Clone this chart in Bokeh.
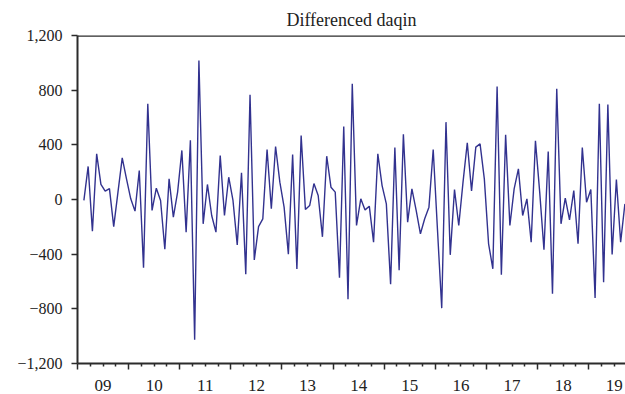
from bokeh.plotting import figure
from bokeh.models import FixedTicker, LinearAxis, Span, Range1d
from bokeh.embed import file_html
from bokeh.resources import INLINE

title_text = "Differenced daqin"
start_year, start_month = 2009, 2
diff_values = [
    -7, 242, -232, 334, 110, 61, 80, -198, 54, 305, 151, 5,
    -85, 212, -500, 700, -80, 83, -7, -364, 151, -129, 54, 359,
    -239, 434, -1027, 1017, -178, 110, -117, -239, 322, -117, 163, -7,
    -332, 195, -547, 766, -442, -198, -142, 366, -68, 388, 127, -56,
    -400, 329, -508, 468, -73, -44, 117, 29, -273, 317, 90, 54,
    -573, 534, -730, 847, -190, 5, -76, -49, -312, 334, 102, -32,
    -620, 381, -517, 478, -166, 78, -80, -251, -141, -56, 366, -220,
    -795, 566, -405, 73, -190, 127, 415, 63, 383, 407, 151, -324,
    -507, 827, -551, 473, -190, 78, 224, -117, 5, -312, 429, 54,
    -368, 351, -690, 810, -178, 10, -149, 66, -324, 381, -20, 73,
    -720, 700, -605, 695, -402, 146, -312, -32,
]
year_ticks = list(range(2009, 2020))
year_labels = ["09", "10", "11", "12", "13", "14", "15", "16", "17", "18", "19"]
y_ticks = [-1200, -800, -400, 0, 400, 800, 1200]
y_labels = ["\u22121,200", "\u2212800", "\u2212400", "0", "400", "800", "1,200"]

x = [start_year + (start_month - 1 + i + 0.5) / 12 for i in range(len(diff_values))]

FONT = "Liberation Serif"
AX = "#2b2b2b"
x_start, x_end = 2009.0, 2019.72

p = figure(width=625, height=394, x_range=Range1d(x_start, x_end),
           y_range=Range1d(-1200, 1200), output_backend="svg",
           toolbar_location=None, min_border_left=77, min_border_right=0,
           min_border_top=35, min_border_bottom=31, title=title_text)
p.title.align = "center"
p.title.vertical_align = "bottom"
p.title.text_font = FONT
p.title.text_font_style = "normal"
p.title.text_font_size = "18px"
p.title.text_color = "#222222"
p.title.offset = 0
p.title.standoff = 12
p.grid.visible = False
p.outline_line_color = None
p.background_fill_color = "white"
p.border_fill_color = "white"

p.line(x, diff_values, line_color="#32328f", line_width=1.4)

p.add_layout(Span(location=1200, dimension="width", line_color=AX, line_width=2.5))

ya = p.yaxis[0]
ya.ticker = FixedTicker(ticks=y_ticks)
ya.major_label_overrides = dict(zip(y_ticks, y_labels))
ya.minor_tick_line_color = None
ya.major_tick_in = 0
ya.major_tick_out = 6
ya.major_tick_line_color = AX
ya.major_tick_line_width = 1.5
ya.axis_line_color = AX
ya.axis_line_width = 2
ya.major_label_standoff = 9
ya.major_label_text_font = FONT
ya.major_label_text_font_size = "16px"
ya.major_label_text_color = "#222222"

quarters = [yr + q / 4 for yr in range(2009, 2020) for q in range(4) if q != 0 and yr + q / 4 < x_end]
xa = p.xaxis[0]
xa.ticker = FixedTicker(ticks=year_ticks, minor_ticks=quarters)
xa.major_label_overrides = {t: "" for t in year_ticks}
xa.major_label_standoff = 0
xa.major_label_text_font_size = "1px"
xa.major_tick_in = 0
xa.major_tick_out = 6
xa.minor_tick_in = 0
xa.minor_tick_out = 3
xa.major_tick_line_color = AX
xa.minor_tick_line_color = AX
xa.major_tick_line_width = 1.5
xa.minor_tick_line_width = 1.5
xa.axis_line_color = AX
xa.axis_line_width = 2

mid_years = [t + 0.5 for t in year_ticks]
xl = LinearAxis(ticker=FixedTicker(ticks=mid_years),
                major_label_overrides=dict(zip(mid_years, year_labels)),
                axis_line_color=None, major_tick_line_color=None,
                minor_tick_line_color=None, major_label_standoff=4,
                major_label_text_font=FONT, major_label_text_font_size="17px",
                major_label_text_color="#222222")
p.add_layout(xl, "below")

open("out.html", "w").write(file_html(p, INLINE))
